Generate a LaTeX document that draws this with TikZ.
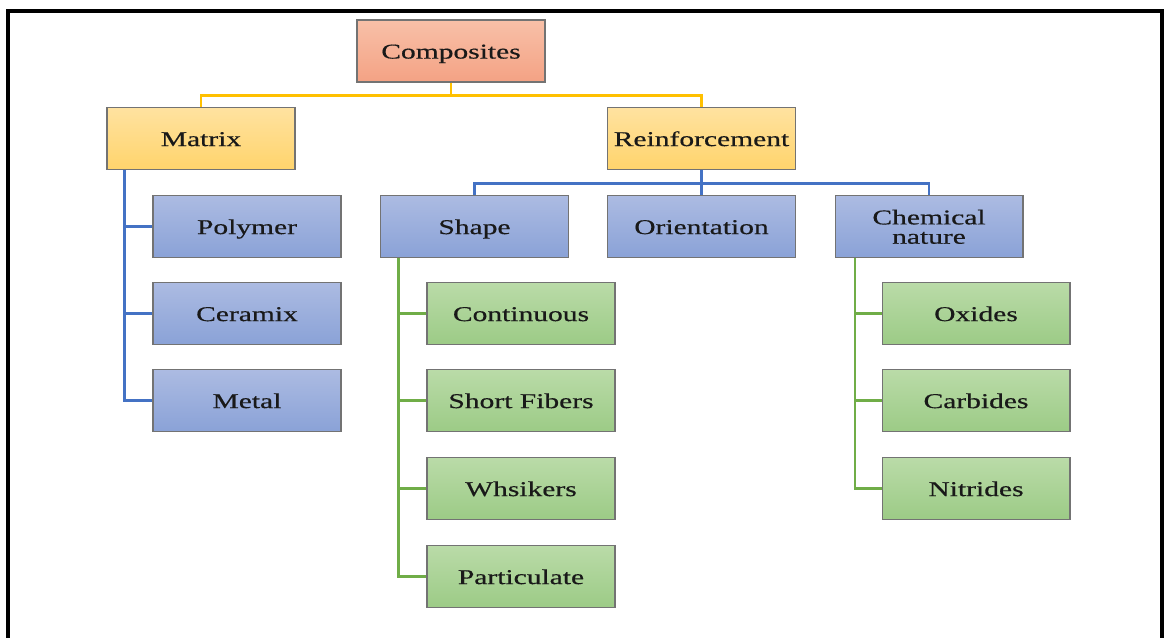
\documentclass[tikz,border=0pt]{standalone}
\usepackage{fontspec}
\setmainfont{Liberation Serif}
\newfontfamily\boxfont[FakeBold=0.4]{Liberation Serif}
\usepackage{graphicx}
\usepackage{xcolor}

\definecolor{rootTop}{RGB}{248,192,168}
\definecolor{rootBot}{RGB}{244,162,132}
\definecolor{groupTop}{RGB}{255,226,160}
\definecolor{groupBot}{RGB}{255,212,108}
\definecolor{classTop}{RGB}{172,187,226}
\definecolor{classBot}{RGB}{138,162,215}
\definecolor{typeTop}{RGB}{186,219,168}
\definecolor{typeBot}{RGB}{156,203,134}
\definecolor{yellowLink}{RGB}{255,192,0}
\definecolor{blueLink}{RGB}{68,114,196}
\definecolor{greenLink}{RGB}{112,173,71}

\newcommand{\boxtext}[1]{\raisebox{-1.5pt}[\height][\depth]{\scalebox{1.4}[1]{\begin{tabular}{@{}c@{}}#1\end{tabular}}}}

\begin{document}
\begin{tikzpicture}[x=0.02cm, y=-0.02cm,
    box/.style={draw=black!55, line width=0.6pt, minimum width=3.76cm,
        minimum height=1.24cm, inner sep=1pt, text=black!90,
        font=\boxfont\fontsize{12}{14}\selectfont},
    rootbox/.style={box, top color=rootTop, bottom color=rootBot},
    groupbox/.style={box, top color=groupTop, bottom color=groupBot},
    classbox/.style={box, top color=classTop, bottom color=classBot},
    typebox/.style={box, top color=typeTop, bottom color=typeBot},
    yline/.style={draw=yellowLink, line width=1.3pt},
    bline/.style={draw=blueLink, line width=1.3pt},
    gline/.style={draw=greenLink, line width=1.3pt}]
    % Frame
    \useasboundingbox (0,0) rectangle (1165,637);
    \draw[line width=2.2pt] (8,640) -- (8,11) -- (1162,11) -- (1162,640);

    % Top levels
    \node[rootbox] (comp) at (451,51) {\boxtext{Composites}};
    \node[groupbox] (matrix) at (201,138.5) {\boxtext{Matrix}};
    \node[groupbox] (reinf) at (701.5,138.5) {\boxtext{Reinforcement}};

    % Reinforcement classes
    \node[classbox] (shape) at (474.5,226.5) {\boxtext{Shape}};
    \node[classbox] (orient) at (701.5,226.5) {\boxtext{Orientation}};
    \node[classbox] (chem) at (929,226.5) {\boxtext{Chemical\\[-3pt]nature}};

    % Matrix types
    \node[classbox] (polymer) at (247,226.5) {\boxtext{Polymer}};
    \node[classbox] (ceramix) at (247,313.5) {\boxtext{Ceramix}};
    \node[classbox] (metal) at (247,400.5) {\boxtext{Metal}};

    % Shape types
    \node[typebox] (contin) at (521,313.5) {\boxtext{Continuous}};
    \node[typebox] (short) at (521,400.5) {\boxtext{Short Fibers}};
    \node[typebox] (whisk) at (521,488.5) {\boxtext{Whsikers}};
    \node[typebox] (partic) at (521,576.5) {\boxtext{Particulate}};

    % Chemical types
    \node[typebox] (oxides) at (976,313.5) {\boxtext{Oxides}};
    \node[typebox] (carbides) at (976,400.5) {\boxtext{Carbides}};
    \node[typebox] (nitrides) at (976,488.5) {\boxtext{Nitrides}};

    % Links from the root
    \draw[yline] (comp.south) -- ++(0,13) -| (matrix.north);
    \draw[yline] (comp.south) -- ++(0,13) -| (reinf.north);

    % Links from reinforcement
    \draw[bline] (reinf.south) -- ++(0,13.5) -| (shape.north);
    \draw[bline] (reinf.south) -- ++(0,13.5) -| (chem.north);
    \draw[bline] (reinf.south) -- (orient.north);

    % Side branches
    \coordinate (mx) at (124.5,0);
    \coordinate (sx) at (398.5,0);
    \coordinate (cx) at (855,0);
    \draw[bline] (matrix.south -| mx) |- (metal.west);
    \foreach \n in {polymer,ceramix}
        \draw[bline] (\n.west) -- (\n.west -| mx);
    \draw[gline] (shape.south -| sx) |- (partic.west);
    \foreach \n in {contin,short,whisk}
        \draw[gline] (\n.west) -- (\n.west -| sx);
    \draw[gline] (chem.south -| cx) |- (nitrides.west);
    \foreach \n in {oxides,carbides}
        \draw[gline] (\n.west) -- (\n.west -| cx);
\end{tikzpicture}
\end{document}
